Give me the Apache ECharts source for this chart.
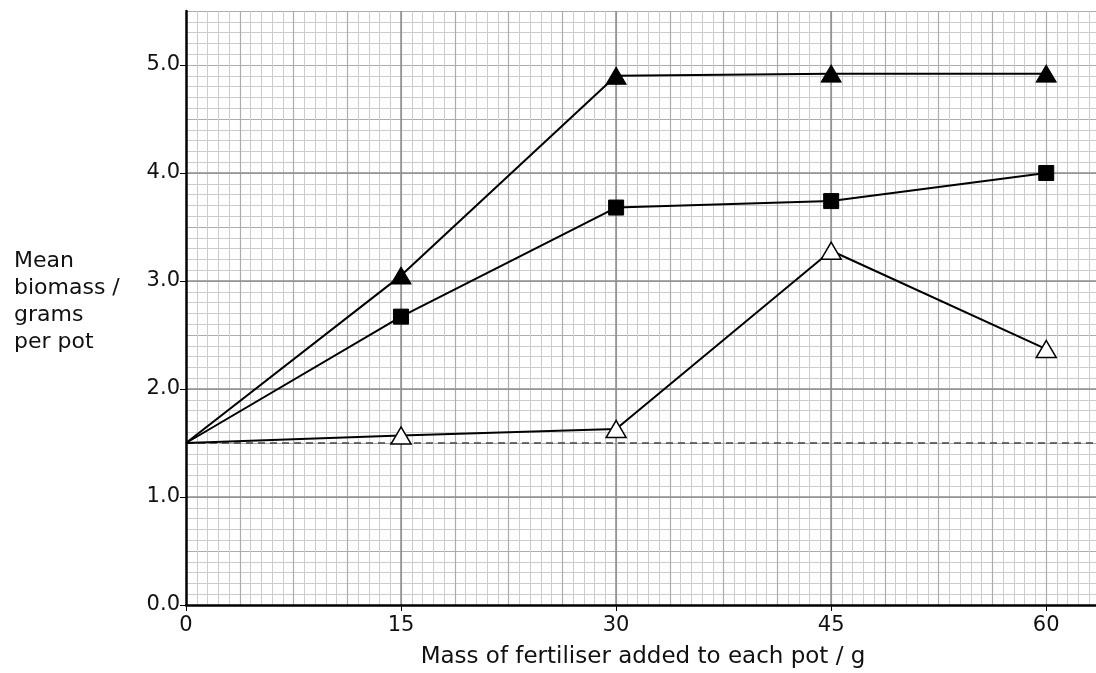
<!DOCTYPE html>
<html>
<head>
<meta charset="utf-8">
<script src="https://cdn.jsdelivr.net/npm/echarts@6/dist/echarts.min.js"></script>
<style>html,body{margin:0;padding:0;background:#fff;overflow:hidden}#c{position:absolute;left:0;top:0;width:1096px;height:673px}</style>
</head>
<body>
<div id="c"></div>
<script>
var xTicks = [0, 15, 30, 45, 60];
var yTicks = [0.0, 1.0, 2.0, 3.0, 4.0, 5.0];
var xValues = [0, 15, 30, 45, 60];
var filledTriangle = [1.5, 3.05, 4.9, 4.92, 4.92];
var filledSquare = [1.5, 2.67, 3.68, 3.74, 4.0];
var openTriangle = [1.5, 1.57, 1.63, 3.28, 2.37];
var controlLevel = 1.5;
var xMax = 63.75;
var yMax = 5.5;
var xName = 'Mass of fertiliser added to each pot / g';
var yNameLines = ['Mean', 'biomass /', 'grams', 'per pot'];

function pairs(vals) {
  return xValues.map(function (x, i) {
    var item = {value: [x, vals[i]]};
    if (i === 0) item.symbol = 'none';
    return item;
  });
}

var FONT = 'DejaVu Sans';
var chart = echarts.init(document.getElementById('c'), null, {renderer: 'canvas', width: 1096, height: 673});
chart.setOption({
  animation: false,
  backgroundColor: '#fff',
  grid: {left: 186, top: 11, width: 914, height: 594, containLabel: false, outerBoundsMode: 'none'},
  xAxis: [
    {
      type: 'value', min: 0, max: xMax, interval: 15, z: 3,
      axisLine: {show: true, onZero: false, lineStyle: {color: '#000', width: 2.5}},
      axisTick: {show: true, length: 6, customValues: xTicks, lineStyle: {color: '#000', width: 1}},
      axisLabel: {margin: 10, color: '#111', fontFamily: FONT, fontSize: 21, customValues: xTicks,
        formatter: function (v) { return String(v); }},
      splitLine: {show: true, showMinLine: false, showMaxLine: false, lineStyle: {color: '#8e8e8e', width: 1.5}},
      name: xName, nameLocation: 'middle', nameGap: 41,
      nameTextStyle: {color: '#111', fontFamily: FONT, fontSize: 23}
    },
    {
      type: 'value', min: 0, max: xMax, interval: 3.75, z: 1,
      axisLine: {show: false}, axisTick: {show: false}, axisLabel: {show: false},
      splitLine: {show: true, showMinLine: false, lineStyle: {color: '#acacac', width: 1.2}},
      minorTick: {show: false, splitNumber: 5},
      minorSplitLine: {show: true, lineStyle: {color: '#cccccc', width: 1}}
    }
  ],
  yAxis: [
    {
      type: 'value', min: 0, max: yMax, interval: 1, z: 3,
      axisLine: {show: true, onZero: false, lineStyle: {color: '#000', width: 2.5}},
      axisTick: {show: true, length: 6, customValues: yTicks, lineStyle: {color: '#000', width: 1}},
      axisLabel: {margin: 6, color: '#111', fontFamily: FONT, fontSize: 21, customValues: yTicks,
        formatter: function (v) { return v.toFixed(1); }},
      splitLine: {show: true, showMinLine: false, showMaxLine: false, lineStyle: {color: '#8e8e8e', width: 1.5}}
    },
    {
      type: 'value', min: 0, max: yMax, interval: 0.5, z: 1,
      axisLine: {show: false}, axisTick: {show: false}, axisLabel: {show: false},
      splitLine: {show: true, showMinLine: false, lineStyle: {color: '#acacac', width: 1.2}},
      minorTick: {show: false, splitNumber: 5},
      minorSplitLine: {show: true, lineStyle: {color: '#cccccc', width: 1}}
    }
  ],
  graphic: [{
    type: 'text', left: 14, top: 248, z: 10,
    style: {text: yNameLines.join('\n'), font: '22px "DejaVu Sans"', fill: '#111', lineHeight: 27}
  }],
  series: [
    {
      type: 'line', name: 'control', data: [[0, controlLevel], [xMax, controlLevel]],
      showSymbol: false, symbol: 'none', z: 3,
      lineStyle: {color: '#444', width: 1.7, type: [7, 5]}
    },
    {
      type: 'line', name: 'filled triangle', data: pairs(filledTriangle),
      symbol: 'triangle', symbolSize: [20, 17], showAllSymbol: true, z: 4,
      lineStyle: {color: '#000', width: 2}, itemStyle: {color: '#000', borderColor: '#000'}
    },
    {
      type: 'line', name: 'filled square', data: pairs(filledSquare),
      symbol: 'rect', symbolSize: 15, showAllSymbol: true, z: 4,
      lineStyle: {color: '#000', width: 2}, itemStyle: {color: '#000', borderColor: '#000'}
    },
    {
      type: 'line', name: 'open triangle', data: pairs(openTriangle),
      symbol: 'triangle', symbolSize: [20, 17], showAllSymbol: true, z: 4,
      lineStyle: {color: '#000', width: 2}, itemStyle: {color: '#fff', borderColor: '#000', borderWidth: 1.5}
    }
  ]
});
</script>
</body>
</html>
